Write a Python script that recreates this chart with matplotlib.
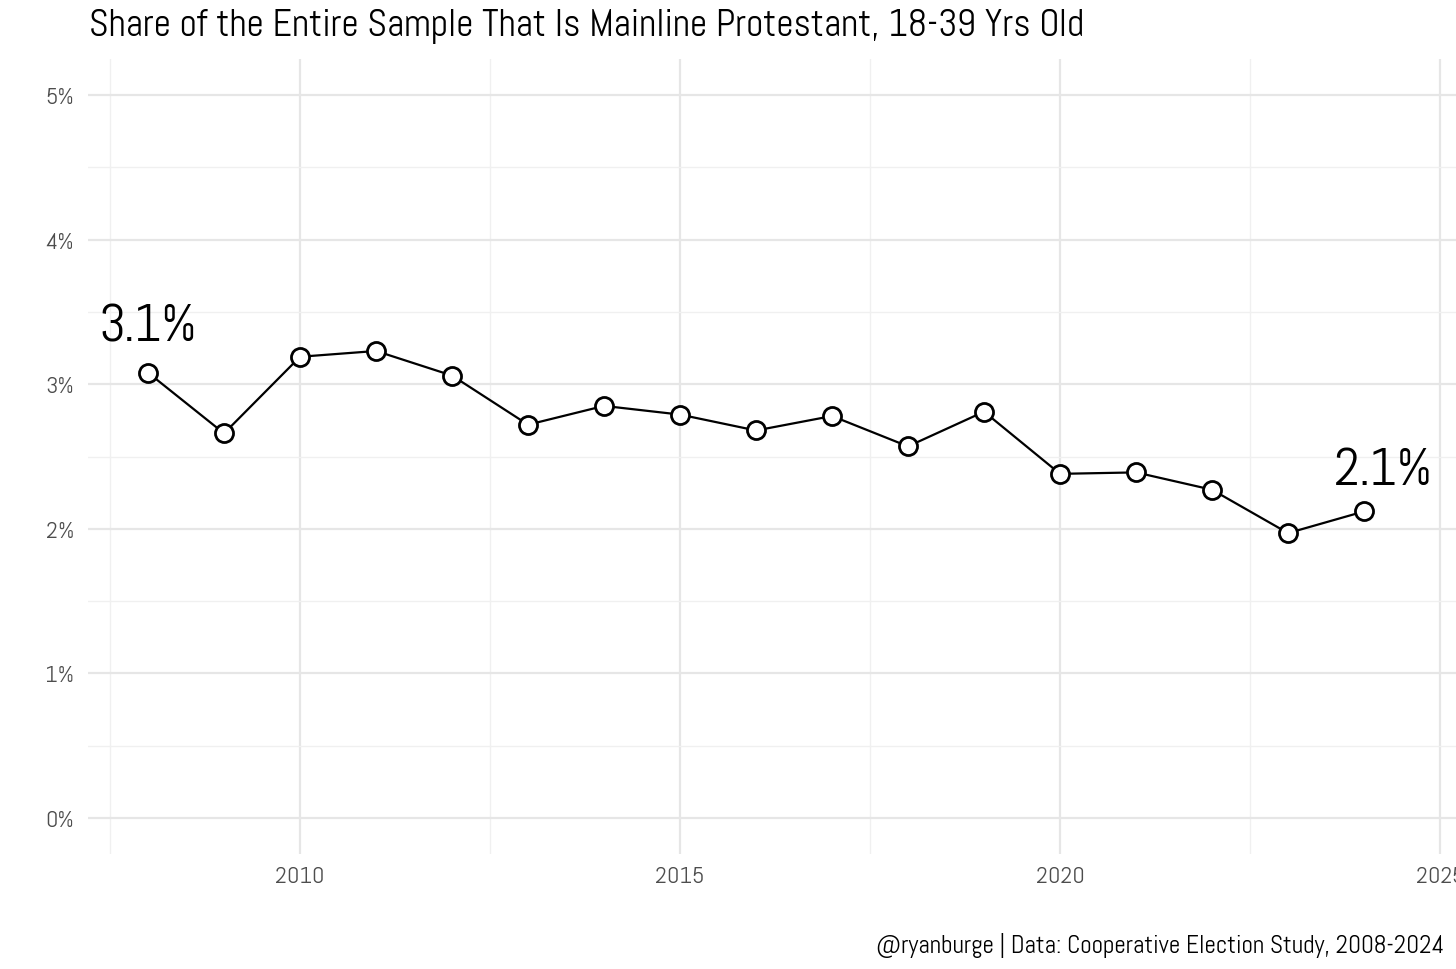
import matplotlib
matplotlib.use('Agg')
import matplotlib.pyplot as plt
from matplotlib import font_manager
from matplotlib.ticker import FuncFormatter, MultipleLocator

years = [2008, 2009, 2010, 2011, 2012, 2013, 2014, 2015, 2016,
         2017, 2018, 2019, 2020, 2021, 2022, 2023, 2024]
share = [3.08, 2.66, 3.19, 3.23, 3.06, 2.72, 2.85, 2.79, 2.68,
         2.78, 2.57, 2.81, 2.38, 2.39, 2.27, 1.97, 2.12]
labels = {2008: '3.1%', 2024: '2.1%'}

title = 'Share of the Entire Sample That Is Mainline Protestant, 18-39 Yrs Old'
caption = '@ryanburge | Data: Cooperative Election Study, 2008-2024'

names = {f.name for f in font_manager.fontManager.ttflist}
font = 'Abel' if 'Abel' in names else 'DejaVu Sans'
plt.rcParams['font.family'] = [font, 'DejaVu Sans']

fig = plt.figure(figsize=(14.56, 9.70), dpi=100)
ax = fig.add_axes([88 / 1456, 1 - 855 / 970, 1 - 88 / 1456, 795 / 970])

ax.plot(years, share, color='black', lw=1.6, zorder=3)
ax.plot(years, share, 'o', ms=13, mfc='white', mec='black', mew=2, zorder=4)

# label offsets in points (the last one sits a bit right of its point)
offsets = {2008: (0, 15), 2024: (14, 12)}
for yr, txt in labels.items():
    v = share[years.index(yr)]
    ax.annotate(txt, (yr, v), xytext=offsets[yr], textcoords='offset points',
                ha='center', va='bottom', fontsize=38, color='black')

ax.set_xlim(2007.21, 2025.21)
ax.set_ylim(-0.25, 5.25)
ax.xaxis.set_major_locator(MultipleLocator(5))
ax.xaxis.set_minor_locator(MultipleLocator(2.5))
ax.yaxis.set_major_locator(MultipleLocator(1))
ax.yaxis.set_minor_locator(MultipleLocator(0.5))
ax.yaxis.set_major_formatter(FuncFormatter(lambda v, p: f'{v:.0f}%'))

ax.grid(True, which='major', color='#e6e6e6', lw=1.6)
ax.grid(True, which='minor', color='#f0f0f0', lw=1.0)
ax.set_axisbelow(True)
for s in ax.spines.values():
    s.set_visible(False)
ax.tick_params(which='both', length=0)
ax.tick_params(axis='both', labelsize=17.5, colors='#4d4d4d', pad=10)
ax.tick_params(axis='x', pad=9)

fig.text(89 / 1456, 1 - 26 / 970, title, fontsize=27.3, va='center', ha='left')
fig.text(1444 / 1456, 1 - 946 / 970, caption, fontsize=18.2, va='center', ha='right')

fig.savefig('out.png', dpi=100)
